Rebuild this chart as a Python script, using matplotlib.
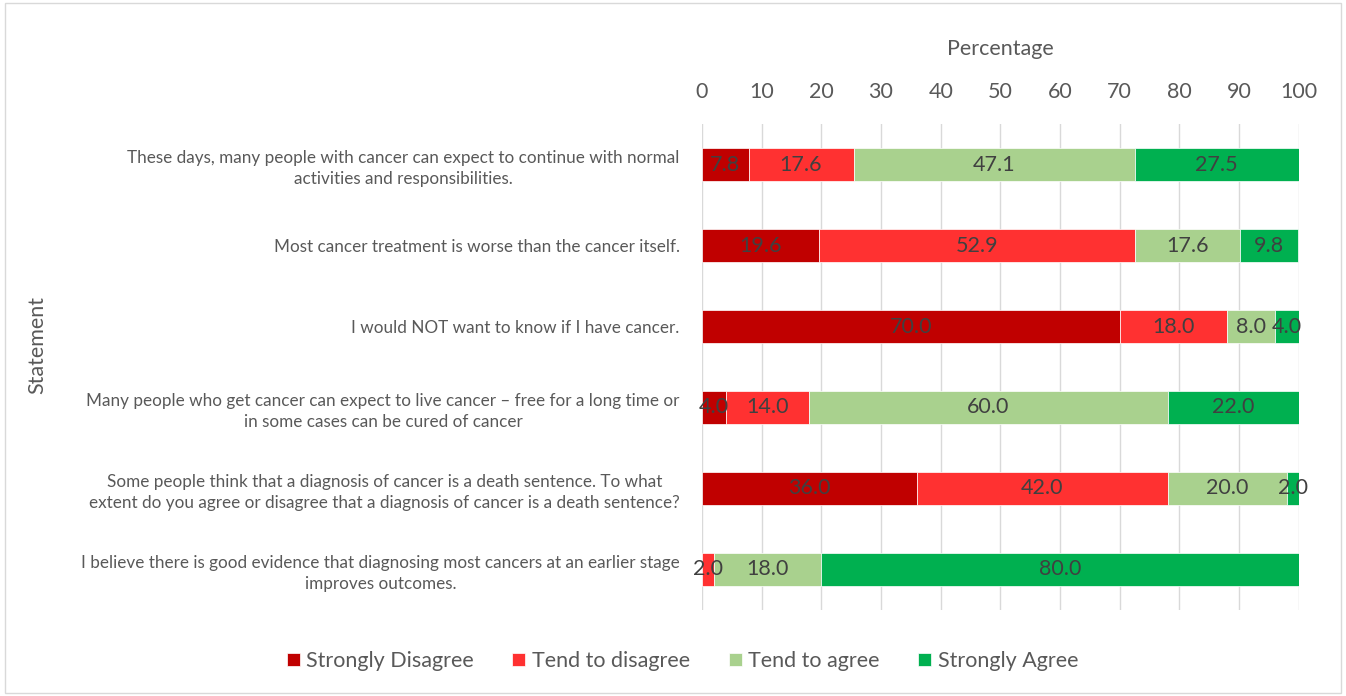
import matplotlib.pyplot as plt
import numpy as np
from matplotlib.patches import Rectangle

plt.rcParams['font.family'] = ['Lato', 'DejaVu Sans']

# statements, top to bottom
statements = [
    "These days, many people with cancer can expect to continue with normal\nactivities and responsibilities.",
    "Most cancer treatment is worse than the cancer itself.",
    "I would NOT want to know if I have cancer.",
    "Many people who get cancer can expect to live cancer \u2013 free for a long time or\nin some cases can be cured of cancer",
    "Some people think that a diagnosis of cancer is a death sentence. To what\nextent do you agree or disagree that a diagnosis of cancer is a death sentence?",
    "I believe there is good evidence that diagnosing most cancers at an earlier stage\nimproves outcomes.",
]
series_names = ["Strongly Disagree", "Tend to disagree", "Tend to agree", "Strongly Agree"]
strongly_disagree = [7.8, 19.6, 70.0, 4.0, 36.0, 0.0]
tend_disagree = [17.6, 52.9, 18.0, 14.0, 42.0, 2.0]
tend_agree = [47.1, 17.6, 8.0, 60.0, 20.0, 18.0]
strongly_agree = [27.5, 9.8, 4.0, 22.0, 2.0, 80.0]
colors = ["#C00000", "#FF3131", "#A9D18E", "#00B050"]

fig = plt.figure(figsize=(13.46, 6.96), dpi=100)
ax = fig.add_axes([0.5215, 0.1236, 0.4435, 0.6982])

y = np.arange(len(statements))
left = np.zeros(len(statements))
for name, vals, c in zip(series_names, [strongly_disagree, tend_disagree, tend_agree, strongly_agree], colors):
    vals = np.array(vals)
    ax.barh(y, vals, left=left, height=0.4, color=c, label=name,
            edgecolor='white', linewidth=0.5, zorder=3)
    for yi, l, v in zip(y, left, vals):
        if v > 0:
            ax.text(l + v / 2, yi, f"{v:.1f}", ha='center', va='center',
                    fontsize=15.5, color='#404040', zorder=4)
    left += vals

ax.set_xlim(0, 100)
ax.set_ylim(len(statements) - 0.5, -0.5)
ax.set_xticks(np.arange(0, 101, 10))
ax.xaxis.tick_top()
ax.xaxis.set_label_position('top')
ax.set_xlabel("Percentage", fontsize=15.5, color='#595959', labelpad=19)
ax.tick_params(axis='x', length=0, labelsize=15.5, labelcolor='#595959', pad=16)
ax.tick_params(axis='y', length=0, labelsize=12.3, labelcolor='#595959', pad=16)
ax.set_yticks(y)
ax.set_yticklabels(statements, multialignment='center', linespacing=1.35)
ax.grid(axis='x', color='#D9D9D9', linewidth=1, zorder=0)
for s in ax.spines.values():
    s.set_visible(False)

fig.text(0.028, 0.505, "Statement", rotation=90, ha='center', va='center',
         fontsize=15.5, color='#595959')

fig.legend(loc='center', bbox_to_anchor=(0.507, 0.05), ncol=4, frameon=False,
           fontsize=15.5, labelcolor='#595959', handlelength=0.6, handleheight=0.6,
           handletextpad=0.3, columnspacing=1.8)

fig.patches.append(Rectangle((0.004, 0.004), 0.992, 0.992, transform=fig.transFigure,
                             fill=False, edgecolor='#D9D9D9', linewidth=1))

fig.savefig("out.png", dpi=100)
